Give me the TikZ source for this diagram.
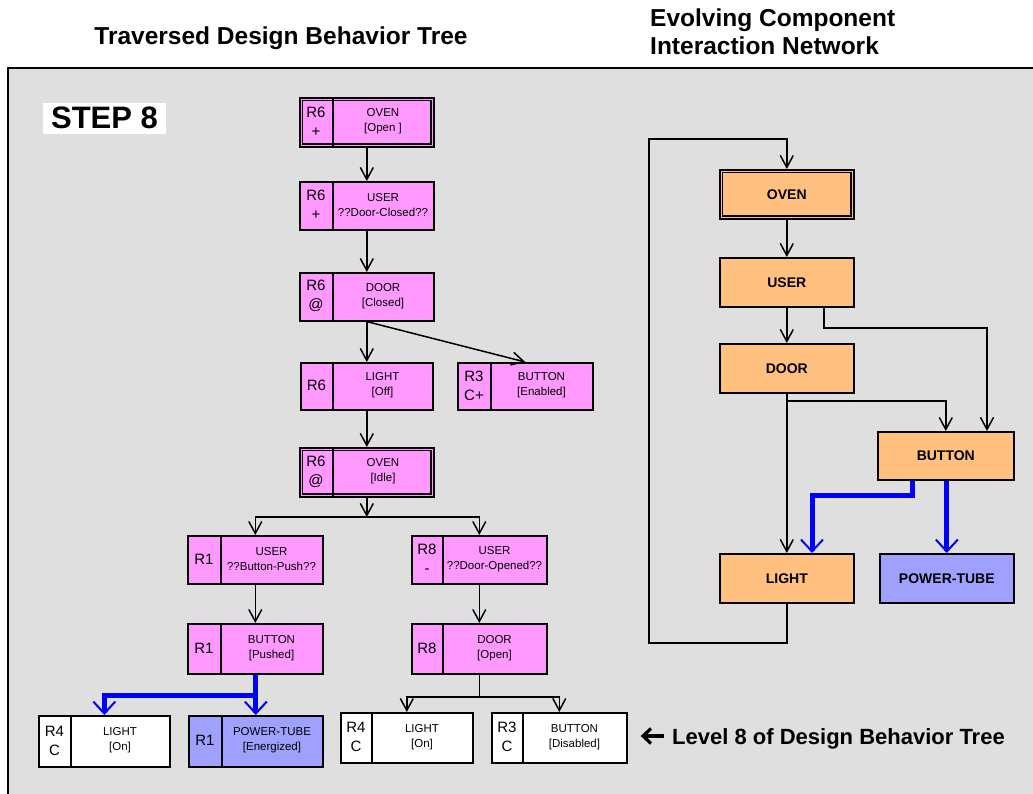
\documentclass[tikz,border=0pt]{standalone}
\usepackage{fontspec}
\setmainfont{Liberation Sans}
\usetikzlibrary{arrows.meta,calc}

\definecolor{bggray}{HTML}{DFDFDF}
\definecolor{btpink}{HTML}{FF99FF}
\definecolor{cinorange}{HTML}{FFC080}
\definecolor{tubeblue}{HTML}{A0A0FF}
\definecolor{flowblue}{HTML}{0000FF}

\tikzset{
  boxline/.style={line width=1.6pt},
  btframe/.style={draw, boxline, inner sep=0pt, anchor=north west},
  tagtext/.style={font=\fontsize{15}{19}\selectfont, align=center, inner sep=0pt},
  bodytext/.style={font=\fontsize{11.5}{15}\selectfont, align=center, inner sep=0pt},
  cinbox/.style={draw, boxline, fill=cinorange, inner sep=0pt, anchor=north west,
                 font=\fontsize{14}{16}\selectfont\bfseries},
  link/.style={line width=1.5pt},
  flowarrow/.style={link, -{Straight Barb[length=12pt,width=13pt,line width=1.5pt]}},
  bluepath/.style={draw=flowblue, line width=5pt},
  bluearrow/.style={bluepath, -{Straight Barb[length=12pt,width=22pt,line width=2pt]}},
  heading/.style={font=\fontsize{24.5}{28}\selectfont\bfseries, inner sep=0pt},
}

% behaviour-tree box: name, x1, y1, x2, y2, divider x, fill, tag, body
\newcommand\btbox[9]{%
  \pgfmathsetmacro\bw{#4-#2}%
  \pgfmathsetmacro\bh{#5-#3}%
  \pgfmathsetmacro\tagx{(#2+#6)/2}%
  \pgfmathsetmacro\bodyx{(#6+#4)/2}%
  \pgfmathsetmacro\midy{(#3+#5)/2}%
  \node[btframe, fill=#7, minimum width=\bw pt, minimum height=\bh pt] (#1) at (#2,#3) {};
  \draw[boxline] (#6,#3) -- (#6,#5);
  \node[tagtext] (#1-tag) at (\tagx,\midy) {#8};
  \node[bodytext] (#1-body) at (\bodyx,\midy) {#9};
}
% inner frame of a double-bordered box
\newcommand\innerframe[1]{%
  \draw[boxline] ($(#1.north west)+(3.5,3.5)$) rectangle ($(#1.south east)+(-3.5,-3.5)$);
}
% component box of the interaction network: name, x1, y1, x2, y2, fill, label
\newcommand\cinnode[7]{%
  \pgfmathsetmacro\bw{#4-#2}%
  \pgfmathsetmacro\bh{#5-#3}%
  \node[cinbox, fill=#6, minimum width=\bw pt, minimum height=\bh pt] (#1) at (#2,#3) {#7};
}

\begin{document}
\begin{tikzpicture}[x=1pt,y=-1pt]
\path[use as bounding box] (0,0) rectangle (1033,793);
\clip (0,0) rectangle (1033,793);

% headings
\node[heading] (lefttitle) at (281,38) {Traversed Design Behavior Tree};
\node[heading, anchor=north west, align=left] (righttitle) at (650,9)
  {Evolving Component\\Interaction Network};

% panel
\draw[line width=1.5pt, fill=bggray] (8,68) rectangle (1045,805);

\node[fill=white, inner sep=0pt, minimum width=123pt, minimum height=31pt,
      font=\fontsize{31}{33}\selectfont\bfseries] (step) at (104.5,118) {STEP 8};

% ---------------- behaviour tree ----------------
\btbox{oven1}{299}{97}{433}{146}{333}{btpink}{R6\\+}{OVEN\\{}[Open ]}
\innerframe{oven1}
\btbox{user1}{299}{181}{433}{229}{333}{btpink}{R6\\+}{USER\\??Door-Closed??}
\btbox{door1}{299}{272}{433}{320}{333}{btpink}{R6\\@}{DOOR\\{}[Closed]}
\btbox{light1}{300}{362}{432}{409}{333}{btpink}{R6}{LIGHT\\{}[Off]}
\btbox{button1}{457}{362}{592}{409}{491}{btpink}{R3\\C+}{BUTTON\\{}[Enabled]}
\btbox{oven2}{299}{447}{433}{496}{333}{btpink}{R6\\@}{OVEN\\{}[Idle]}
\innerframe{oven2}
\btbox{user2}{187}{535}{322}{583}{221}{btpink}{R1}{USER\\??Button-Push??}
\btbox{user3}{411}{535}{546}{583}{443}{btpink}{R8\\-}{USER\\??Door-Opened??}
\btbox{button2}{187}{623}{322}{673}{221}{btpink}{R1}{BUTTON\\{}[Pushed]}
\btbox{door2}{411}{623}{546}{673}{443}{btpink}{R8}{DOOR\\{}[Open]}
\btbox{light2}{38}{715}{169}{766}{71}{white}{R4\\C}{LIGHT\\{}[On]}
\btbox{tube1}{188}{715}{322}{766}{222}{tubeblue}{R1}{POWER-TUBE\\{}[Energized]}
\btbox{light3}{340}{712}{472}{762}{372}{white}{R4\\C}{LIGHT\\{}[On]}
\btbox{button3}{491}{712}{626}{762}{523}{white}{R3\\C}{BUTTON\\{}[Disabled]}

\coordinate (j1) at (oven2.south |- 0,517);
\coordinate (j2) at (door2.south |- 0,697);
\coordinate (j3) at (tube1.north |- 0,695);

\draw[flowarrow] (oven1.south) -- (user1.north);
\draw[flowarrow] (user1.south) -- (door1.north);
\draw[flowarrow] (door1.south) -- (door1.south |- light1.north);
\draw[flowarrow] (door1.south) -- (button1.north);
\draw[flowarrow] (oven2.north |- light1.south) -- (oven2.north);
\draw[flowarrow] (oven2.south) -- (j1);
\draw[flowarrow] (j1) -| (user2.north);
\draw[flowarrow] (j1) -| (user3.north);
\draw[flowarrow] (user2.south) -- (button2.north);
\draw[flowarrow] (user3.south) -- (door2.north);
\draw[link] (door2.south) -- (j2);
\draw[flowarrow] (j2) -| (light3.north);
\draw[flowarrow] (j2) -| (button3.north);

\draw[bluearrow] (tube1.north |- button2.south) -- (tube1.north);
\draw[bluearrow] (j3) -| (light2.north);

% level marker
\draw[line width=3.2pt] (664,736) -- (644,736);
\draw[line width=3.2pt, line cap=butt, line join=miter] (651,728.5) -- (643,736) -- (651,743.5);
\node[anchor=base west, inner sep=0pt, font=\fontsize{22}{24}\selectfont\bfseries]
  (level) at (672,744) {Level 8 of Design Behavior Tree};

% ---------------- component interaction network ----------------
\cinnode{oven3}{719}{169}{853}{218}{cinorange}{OVEN}
\innerframe{oven3}
\cinnode{user4}{719}{257}{853}{306}{cinorange}{USER}
\cinnode{door3}{719}{343}{853}{392}{cinorange}{DOOR}
\cinnode{button4}{877}{431}{1013}{479}{cinorange}{BUTTON}
\cinnode{light4}{719}{553}{853}{602}{cinorange}{LIGHT}
\cinnode{tube2}{879}{553}{1013}{602}{tubeblue}{POWER-TUBE}

\coordinate (lp1) at (649,643);
\coordinate (lp2) at (649,139);
\coordinate (u2b) at (987,328);
\coordinate (d2b) at (945,401);
\coordinate (b1) at (912,495);
\coordinate (b2) at (812,495);

\draw[flowarrow] (light4.south) |- (lp1) -- (lp2) -| (oven3.north);
\draw[flowarrow] (oven3.south) -- (user4.north);
\draw[flowarrow] (user4.south) -- (door3.north);
\draw[flowarrow] ($(user4.south)+(37,0)$) |- (u2b) -- (u2b |- button4.north);
\draw[flowarrow] (door3.south) -- (light4.north);
\draw[flowarrow] (door3.south |- d2b) -| (button4.north);
\draw[bluearrow] (b1 |- button4.south) -- (b1) -- (b2) -- (b2 |- light4.north);
\draw[bluearrow] (tube2.north |- button4.south) -- (tube2.north);
\end{tikzpicture}
\end{document}
